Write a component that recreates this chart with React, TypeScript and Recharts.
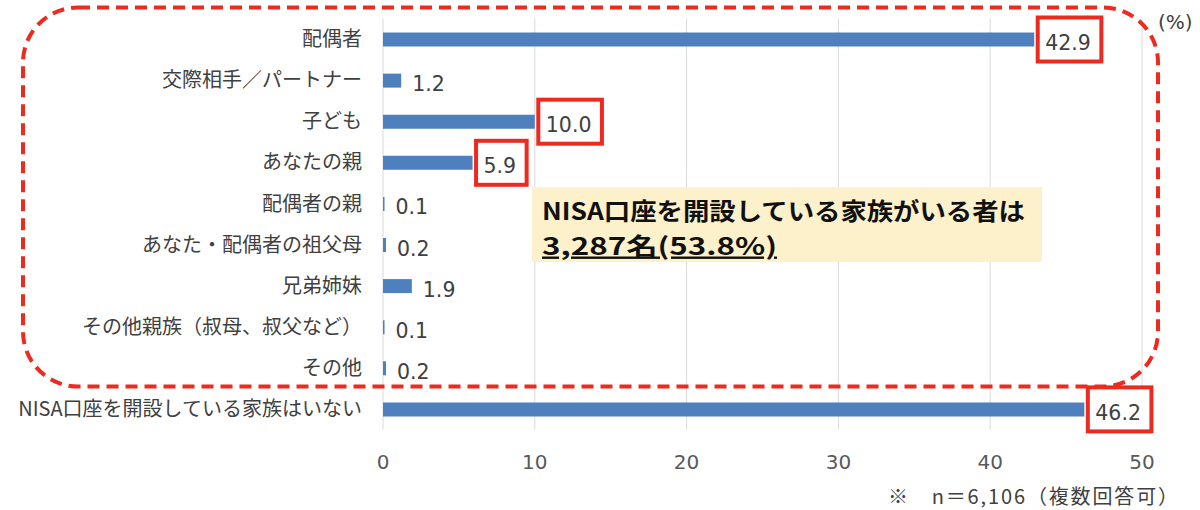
import { Bar, BarChart, CartesianGrid, LabelList, XAxis, YAxis } from 'recharts';

const categories = [
  '配偶者',
  '交際相手／パートナー',
  '子ども',
  'あなたの親',
  '配偶者の親',
  'あなた・配偶者の祖父母',
  '兄弟姉妹',
  'その他親族（叔母、叔父など）',
  'その他',
  'NISA口座を開設している家族はいない',
];
const values = [42.9, 1.2, 10.0, 5.9, 0.1, 0.2, 1.9, 0.1, 0.2, 46.2];
const boxedCategories = ['配偶者', '子ども', 'あなたの親', 'NISA口座を開設している家族はいない'];
const xTicks = [0, 10, 20, 30, 40, 50];

const data = categories.map((name, i) => ({
  name,
  value: values[i],
  boxed: boxedCategories.includes(name),
}));

const W = 1200;
const H = 510;
const RED = '#ec2a1f';
const LABEL_FS = 20.5;

// rough advance width of a number in DejaVu Sans
function numWidth(s: string) {
  let w = 0;
  for (const c of s) w += c === '.' ? 0.318 : 0.636;
  return w * LABEL_FS;
}

function ValueLabel(props: any) {
  const { x, y, width, height, value, index } = props;
  const endX = Number(x) + Number(width);
  const cy = Number(y) + Number(height) / 2;
  const text = Number(value).toFixed(1);
  const boxed = data[index]?.boxed;
  return (
    <g>
      {boxed && (
        <rect
          x={endX + 3.5}
          y={cy - 22}
          width={numWidth(text) + 18}
          height={44}
          fill="#fff"
          stroke={RED}
          strokeWidth={4}
        />
      )}
      <text
        x={endX + 11}
        y={cy + 3.5}
        dominantBaseline="central"
        fontFamily="DejaVu Sans"
        fontSize={LABEL_FS}
        fill="#404040"
      >
        {text}
      </text>
    </g>
  );
}

export default function App() {
  return (
    <div style={{ position: 'absolute', left: 0, top: 0, width: W, height: H, background: '#fff' }}>
      <BarChart
        width={W}
        height={H}
        data={data}
        layout="vertical"
        margin={{ top: 18.5, right: 58, bottom: 50.5, left: 0 }}
      >
        <CartesianGrid horizontal={false} stroke="#d9d9d9" />
        <XAxis
          type="number"
          domain={[0, 50]}
          ticks={xTicks}
          axisLine={false}
          tickLine={false}
          tickSize={0}
          tickMargin={25}
          height={30}
          interval={0}
          tick={{ fontFamily: 'DejaVu Sans', fontSize: 20, fill: '#595959' }}
        />
        <YAxis
          type="category"
          dataKey="name"
          width={383}
          axisLine={false}
          tickLine={false}
          tickSize={0}
          tickMargin={21}
          interval={0}
          tick={{ fontFamily: 'Noto Sans CJK JP', fontSize: 20, fill: '#404040' }}
        />
        <Bar dataKey="value" fill="#4e80bd" barSize={14} isAnimationActive={false}>
          <LabelList dataKey="value" content={ValueLabel} />
        </Bar>
      </BarChart>
      <svg
        width={W}
        height={H}
        style={{ position: 'absolute', left: 0, top: 0, pointerEvents: 'none' }}
      >
        <rect
          x={23}
          y={7.5}
          width={1135}
          height={379}
          rx={55}
          ry={55}
          fill="none"
          stroke={RED}
          strokeWidth={4}
          strokeDasharray="12 7"
        />
        <rect x={532} y={187} width={510} height={75} fill="#fdf1cb" />
        <text fontFamily="Noto Sans CJK JP" fontWeight="bold" fontSize={24} fill="#111">
          <tspan x={542} y={219.5} textLength={483} lengthAdjust="spacingAndGlyphs">
            NISA口座を開設している家族がいる者は
          </tspan>
          <tspan
            x={542}
            y={254.5}
            textLength={235}
            lengthAdjust="spacingAndGlyphs"
            textDecoration="underline"
          >
            3,287名(53.8%)
          </tspan>
        </text>
        <text
          x={1158}
          y={22}
          dominantBaseline="central"
          fontFamily="DejaVu Sans"
          fontSize={20}
          fill="#404040"
        >
          (%)
        </text>
        <text
          x={888}
          y={495}
          dominantBaseline="central"
          fontFamily="Noto Sans CJK JP"
          fontSize={20}
          fill="#404040"
          textLength={290}
          lengthAdjust="spacing"
        >
          ※　n＝6,106（複数回答可）
        </text>
      </svg>
    </div>
  );
}
